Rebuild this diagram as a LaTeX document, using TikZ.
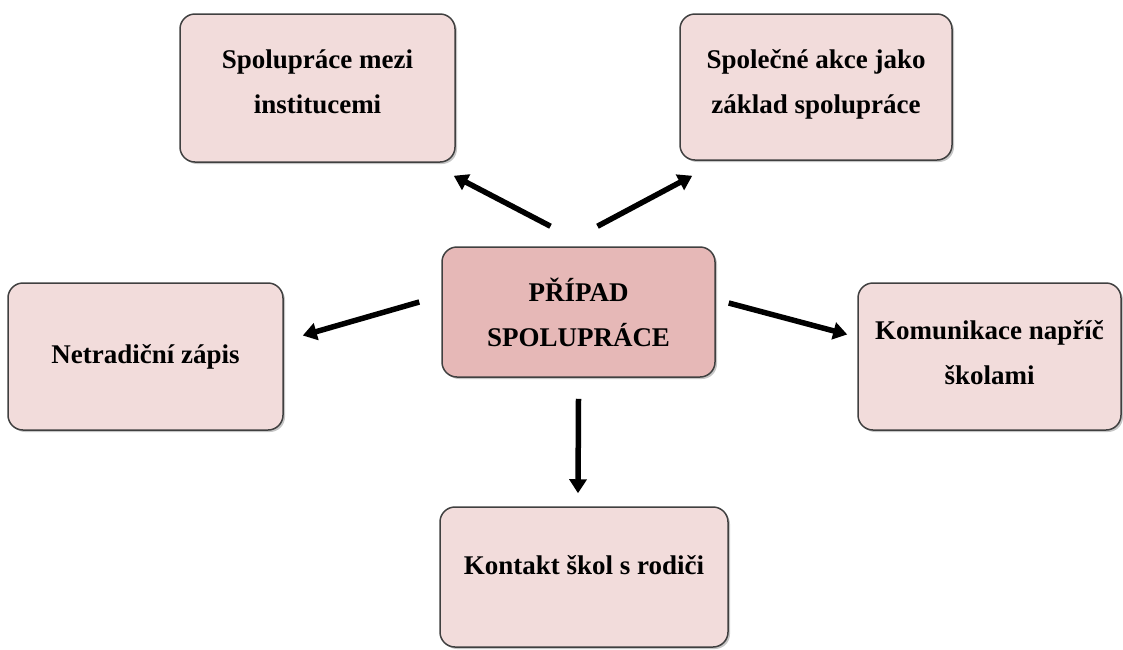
\documentclass[tikz,border=0pt]{standalone}
\usepackage{fontspec}
\setmainfont{Liberation Serif}
\usetikzlibrary{arrows.meta,shadows}

\definecolor{boxpink}{HTML}{F2DCDB}
\definecolor{midpink}{HTML}{E6B8B7}
\definecolor{boxline}{HTML}{404040}

\begin{document}
\begin{tikzpicture}[x=1pt,y=1pt,
    topic/.style={draw=boxline, line width=1.5pt, fill=boxpink, rounded corners=15pt,
        inner sep=0pt, align=center, font=\bfseries\fontsize{27}{45}\selectfont,
        drop shadow={shadow xshift=2pt, shadow yshift=-2pt, opacity=0.45}},
    link/.style={line width=5.5pt, -{Triangle[length=14pt,width=17pt]}}]
        \useasboundingbox (0,0) rectangle (1123,-649);

        % Central node
        \node[topic, fill=midpink, minimum width=273pt, minimum height=130pt] (pripad) at (578.5,-312) {PŘÍPAD\\SPOLUPRÁCE};

        % Surrounding topics
        \node[topic, minimum width=275pt, minimum height=148pt, text depth=12pt] (instituce) at (317.5,-88) {Spolupráce mezi\\institucemi};
        \node[topic, minimum width=272pt, minimum height=146pt, text depth=12pt] (akce) at (816,-87) {Společné akce jako\\základ spolupráce};
        \node[topic, minimum width=275pt, minimum height=147pt] (zapis) at (145.5,-356.5) {Netradiční zápis};
        \node[topic, minimum width=263pt, minimum height=147pt, text depth=8pt] (komunikace) at (989.5,-356.5) {Komunikace napříč\\školami};
        \node[topic, minimum width=288pt, minimum height=140pt, text depth=24pt] (rodice) at (584,-577) {Kontakt škol s rodiči};

        % Arrows
        \draw[link] ([shift={(-28pt,20pt)}]pripad.north) -- ([shift={(-2pt,-13pt)}]instituce.south east);
        \draw[link] ([shift={(19pt,20pt)}]pripad.north) -- ([shift={(13pt,-15pt)}]akce.south west);
        \draw[link] ([shift={(-22pt,10pt)}]pripad.west) -- ([shift={(19pt,21pt)}]zapis.east);
        \draw[link] ([shift={(13pt,9pt)}]pripad.east) -- ([shift={(-10pt,22pt)}]komunikace.west);
        \draw[link] ([shift={(0pt,-21pt)}]pripad.south) -- ([shift={(-6pt,13pt)}]rodice.north);
    \end{tikzpicture}
\end{document}
